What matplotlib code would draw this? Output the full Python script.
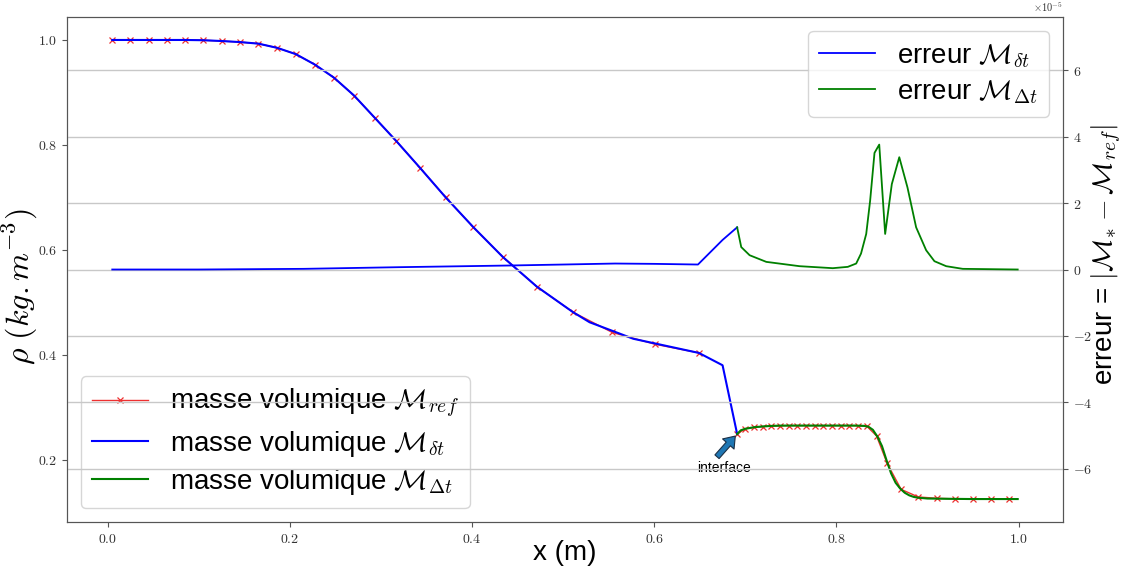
import matplotlib
matplotlib.use('Agg')
import matplotlib.pyplot as plt
from matplotlib.ticker import FuncFormatter, MultipleLocator

plt.rcParams['font.family'] = ['Liberation Sans', 'DejaVu Sans']
plt.rcParams['mathtext.fontset'] = 'cm'

# reference solution (lagrangian mesh, cell centres), left and right of the contact
x_ref_l = [0.005, 0.025, 0.045, 0.065, 0.085, 0.105, 0.125, 0.145, 0.1655, 0.186,
           0.2065, 0.2275, 0.2485, 0.2705, 0.293, 0.317, 0.343, 0.371, 0.4015, 0.434,
           0.471, 0.511, 0.554, 0.601, 0.6495]
rho_ref_l = [1.0, 1.0, 1.0, 1.0, 1.0, 0.9995, 0.998, 0.996, 0.993, 0.985,
             0.973, 0.953, 0.928, 0.894, 0.852, 0.807, 0.756, 0.700, 0.643, 0.586,
             0.530, 0.481, 0.4425, 0.420, 0.4035]
x_ref_r = [0.691, 0.700, 0.7095, 0.719, 0.7285, 0.738, 0.7475, 0.757, 0.7665, 0.776,
           0.7855, 0.795, 0.8045, 0.814, 0.8235, 0.8335, 0.844, 0.8557, 0.871, 0.8898,
           0.9099, 0.930, 0.950, 0.970, 0.990]
rho_ref_r = [0.249, 0.259, 0.2615, 0.263, 0.264, 0.2645, 0.265, 0.265, 0.265, 0.265,
             0.265, 0.265, 0.265, 0.265, 0.2648, 0.2635, 0.2455, 0.193, 0.1435, 0.129,
             0.1265, 0.1255, 0.125, 0.125, 0.125]

# M_delta_t (left of interface)
x_dt = [0.005, 0.025, 0.045, 0.065, 0.085, 0.105, 0.125, 0.145, 0.1655, 0.186,
        0.2065, 0.2275, 0.2485, 0.2705, 0.293, 0.317, 0.343, 0.371, 0.4015, 0.434,
        0.471, 0.511, 0.529, 0.577, 0.649, 0.675, 0.691]
rho_dt = [1.0, 1.0, 1.0, 1.0, 1.0, 0.9995, 0.998, 0.996, 0.993, 0.985,
          0.973, 0.953, 0.928, 0.894, 0.852, 0.807, 0.756, 0.700, 0.643, 0.586,
          0.530, 0.481, 0.462, 0.4305, 0.4035, 0.380, 0.249]

# M_Delta_t (right of interface)
x_Dt = [0.691, 0.695, 0.700, 0.710, 0.720, 0.730, 0.740, 0.760, 0.780, 0.800,
        0.820, 0.830, 0.835, 0.840, 0.845, 0.850, 0.855, 0.860, 0.865, 0.870,
        0.875, 0.880, 0.885, 0.890, 0.900, 0.920, 0.950, 0.999]
rho_Dt = [0.249, 0.256, 0.259, 0.262, 0.2635, 0.2645, 0.265, 0.265, 0.265, 0.265,
          0.265, 0.2645, 0.263, 0.257, 0.244, 0.226, 0.199, 0.174, 0.156, 0.145,
          0.137, 0.132, 0.129, 0.1275, 0.126, 0.1255, 0.125, 0.125]

# errors (x 1e-5)
xe_dt = [0.005, 0.10, 0.215, 0.32, 0.44, 0.50, 0.557, 0.60, 0.648, 0.675, 0.691]
err_dt = [0.0, 0.0, 0.02, 0.07, 0.12, 0.15, 0.18, 0.17, 0.15, 0.89, 1.27]

xe_Dt = [0.691, 0.6955, 0.7047, 0.723, 0.7595, 0.796, 0.8125, 0.8217, 0.827, 0.8327,
         0.837, 0.8418, 0.847, 0.8535, 0.8608, 0.869, 0.878, 0.8875, 0.8985, 0.9076,
         0.9205, 0.9387, 0.999]
err_Dt = [1.27, 0.675, 0.43, 0.23, 0.10, 0.04, 0.08, 0.18, 0.48, 1.07,
          2.07, 3.51, 3.76, 1.07, 2.57, 3.38, 2.47, 1.27, 0.58, 0.25,
          0.10, 0.02, 0.0]

SCALE = 1e-5
x_interface = 0.691
rho_interface = 0.249

spine_col = '#555555'
ref_style = dict(color='#ee3030', lw=1, marker='x', ms=5, mew=0.9)

fig = plt.figure(figsize=(11.24, 5.73), dpi=100)
ax1 = fig.add_subplot(111)
fig.subplots_adjust(left=0.0596, right=0.9457, top=0.9703, bottom=0.089)
ax2 = ax1.twinx()

ax1.plot(x_ref_l, rho_ref_l, label=r'masse volumique $\mathcal{M}_{ref}$', **ref_style)
ax1.plot(x_ref_r, rho_ref_r, **ref_style)
ax1.plot(x_dt, rho_dt, 'b-', lw=1.5,
         label=r'masse volumique $\mathcal{M}_{\delta t}$')
ax1.plot(x_Dt, rho_Dt, 'g-', lw=1.5,
         label=r'masse volumique $\mathcal{M}_{\Delta t}$')

ax2.plot(xe_dt, [e * SCALE for e in err_dt], 'b-', lw=1.3,
         label=r'erreur $\mathcal{M}_{\delta t}$')
ax2.plot(xe_Dt, [e * SCALE for e in err_Dt], 'g-', lw=1.3,
         label=r'erreur $\mathcal{M}_{\Delta t}$')

ax1.annotate('interface', xy=(x_interface, rho_interface), xytext=(0.677, 0.185),
             ha='center', va='center', fontsize=10,
             arrowprops=dict(arrowstyle='simple,head_length=0.38,head_width=0.55,tail_width=0.2',
                             fc='#1f77b4', ec='#1b2f45', lw=0.8, mutation_scale=20,
                             relpos=(0.3, 1.0), shrinkA=1, shrinkB=2))

ax1.xaxis.set_major_locator(MultipleLocator(0.2))
ax1.yaxis.set_major_locator(MultipleLocator(0.2))
ax1.xaxis.set_major_formatter(FuncFormatter(lambda v, p: r'$%.1f$' % v))
ax1.yaxis.set_major_formatter(FuncFormatter(lambda v, p: r'$%.1f$' % v))

ax2.set_ylim(-7.6e-5, 7.6e-5)
ax2.yaxis.set_major_locator(MultipleLocator(2e-5))
ax2.yaxis.set_major_formatter(FuncFormatter(lambda v, p: r'$%d$' % round(v / SCALE)))
ax2.text(0.985, 1.006, r'$\times10^{-5}$', transform=ax2.transAxes,
         ha='center', va='bottom', fontsize=7.5, color='#333333')
ax2.grid(axis='y', color='#c8c8c8', lw=1)

for ax in (ax1, ax2):
    for s in ax.spines.values():
        s.set_color(spine_col)
    ax.tick_params(colors=spine_col, labelcolor='#333333', labelsize=10)

ax1.set_xlabel('x (m)', fontsize=20)
ax1.xaxis.set_label_coords(0.5, -0.035)
ax1.set_ylabel(r'$\rho\ (kg.m^{-3})$', fontsize=23)
ax1.yaxis.set_label_coords(-0.027, 0.465)
ax2.set_ylabel(r'erreur = $|\mathcal{M}_{*} - \mathcal{M}_{ref}|$', fontsize=20)
ax2.yaxis.set_label_coords(1.027, 0.53)

ax1.legend(loc='lower left', fontsize=20, labelspacing=0.3)
ax2.legend(loc='upper right', fontsize=20, labelspacing=0.3)

fig.savefig('out.png', dpi=100)
